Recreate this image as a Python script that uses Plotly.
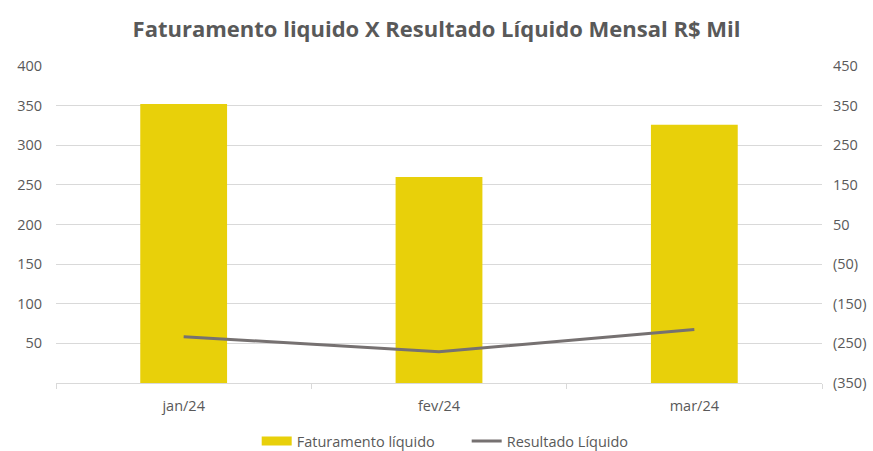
import plotly.graph_objects as go

categories = ["jan/24", "fev/24", "mar/24"]
faturamento = [352, 260, 326]
resultado = [-233, -271, -215]
left_ticks = [50, 100, 150, 200, 250, 300, 350, 400]
right_ticks = [-350, -250, -150, -50, 50, 150, 250, 350, 450]
right_tick_labels = ["(350)", "(250)", "(150)", "(50)", "50", "150", "250", "350", "450"]

FONT = "Open Sans, Liberation Sans, sans-serif"
GRAY = "#595959"
YELLOW = "#E8D00A"

fig = go.Figure()
fig.add_trace(go.Bar(x=categories, y=faturamento, name="Faturamento líquido",
                     marker=dict(color=YELLOW, line=dict(width=0)), yaxis="y",
                     showlegend=False, legendgroup="fat"))
# legend-only entry drawn as a wide rectangle like the reference
fig.add_trace(go.Scatter(x=[categories[0]], y=[None], name="Faturamento líquido",
                         mode="lines", line=dict(color=YELLOW, width=9), yaxis="y",
                         legendgroup="fat", hoverinfo="skip"))
fig.add_trace(go.Scatter(x=categories, y=resultado, name="Resultado Líquido",
                         mode="lines", line=dict(color="#767171", width=3), yaxis="y2"))

fig.update_layout(
    width=873, height=451,
    margin=dict(l=56, r=51, t=66, b=68, autoexpand=False),
    paper_bgcolor="white", plot_bgcolor="white",
    bargap=0.66,
    title=dict(text="<b>Faturamento liquido X Resultado Líquido Mensal R$ Mil</b>",
               x=0.5, xanchor="center", y=0.936, yanchor="middle",
               font=dict(family=FONT, size=22, color=GRAY)),
    font=dict(family=FONT, size=14.5, color=GRAY),
    xaxis=dict(type="category", showgrid=False, showline=True, linecolor="#D9D9D9",
               linewidth=1, ticks="outside", tickson="boundaries", ticklen=5,
               tickcolor="#D9D9D9", tickfont=dict(size=14.5, color=GRAY),
               ticklabelstandoff=10, automargin=False),
    yaxis=dict(range=[0, 400], tickvals=left_ticks, showgrid=True, gridcolor="#D9D9D9",
               zeroline=False, showline=False, ticks="", tickfont=dict(size=14.5, color=GRAY),
               ticklabelstandoff=13, automargin=False),
    yaxis2=dict(range=[-350, 450], overlaying="y", side="right", tickvals=right_ticks,
                ticktext=right_tick_labels, showgrid=False, zeroline=False, showline=False,
                tickfont=dict(size=14.5, color=GRAY), ticklabelstandoff=10, automargin=False),
    legend=dict(orientation="h", x=0.262, xanchor="left", y=-0.183, yanchor="middle",
                font=dict(size=14.5, color=GRAY), traceorder="normal", itemwidth=30,
                entrywidth=165),
)

fig.write_html("out.html", config={"displayModeBar": False},
               post_script="document.body.style.margin='0';")
